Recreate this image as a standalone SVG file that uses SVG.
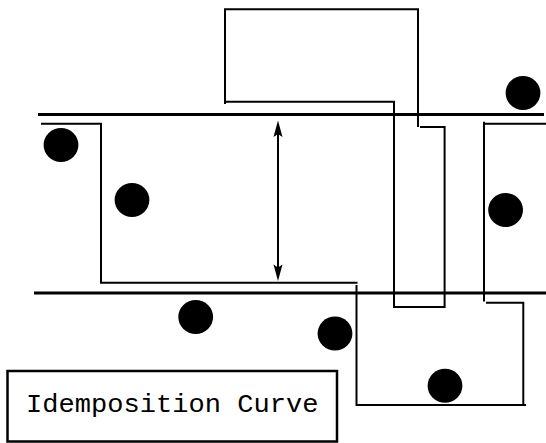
<svg xmlns="http://www.w3.org/2000/svg" width="546" height="443" viewBox="0 0 546 443">
<style>
.rail{stroke:#000;stroke-width:3;fill:none}
.curve{stroke:#000;stroke-width:2;fill:none}
.dot{fill:#000}
.label{font-family:"Liberation Mono","DejaVu Sans Mono",monospace;font-size:26px;fill:#000}
</style>
<rect width="546" height="443" fill="#fff"/>
<g id="rails">
<line class="rail" x1="38" y1="114.5" x2="544" y2="114.5"/>
<line class="rail" x1="34" y1="293" x2="546" y2="293"/>
</g>
<g id="curves">
<polyline class="curve" points="41,123.7 101,123.7 101,282.7 357.5,282.7"/>
<polyline class="curve" points="356.5,285 356.5,405 526,405"/>
<polyline class="curve" points="225,104 225,9.3 418,9.3 418,127"/>
<polyline class="curve" points="225,101.7 394,101.7 394,307 444.6,307 444.6,127 420,127"/>
<polyline class="curve" points="546,123.7 484,123.7 484,121.7 484,301.5"/>
<polyline class="curve" points="486,302.7 523.3,302.7 523.3,406"/>
</g>
<g id="arrow">
<line x1="278" y1="128" x2="278" y2="274" stroke="#000" stroke-width="2"/>
<polygon points="278,120.5 282.5,137 278,134 273.5,137" fill="#000"/>
<polygon points="278,281 282.5,264.5 278,267.5 273.5,264.5" fill="#000"/>
</g>
<g id="dots">
<ellipse class="dot" cx="523" cy="93" rx="17.4" ry="17"/>
<ellipse class="dot" cx="61" cy="145" rx="17.4" ry="17"/>
<ellipse class="dot" cx="132" cy="200" rx="17.4" ry="17"/>
<ellipse class="dot" cx="505.6" cy="210" rx="17.4" ry="17"/>
<ellipse class="dot" cx="195.7" cy="317" rx="17.4" ry="17"/>
<ellipse class="dot" cx="335" cy="333.5" rx="17.4" ry="17"/>
<ellipse class="dot" cx="445" cy="385.7" rx="17.4" ry="17"/>
</g>
<g id="legend">
<rect x="7.5" y="371" width="329.5" height="70.5" fill="#fff" stroke="#000" stroke-width="2.5"/>
<text class="label" x="26" y="411.5" textLength="292.5" lengthAdjust="spacingAndGlyphs">Idemposition Curve</text>
</g>
</svg>
